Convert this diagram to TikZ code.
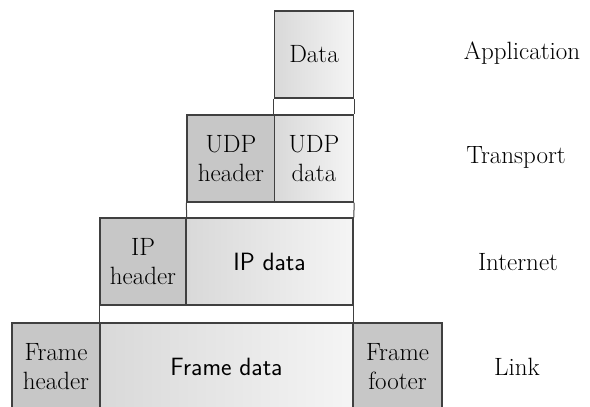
\documentclass[tikz,border=0pt]{standalone}
\usepackage{tikz}
\begin{document}
\begin{tikzpicture}[x=1pt,y=-1pt,
    box/.style={draw=black!75,line width=1.5pt,minimum height=87pt,inner sep=0pt,align=center,font=\fontsize{25}{29}\selectfont},
    hdr/.style={box,fill=black!22},
    pay/.style={box,left color=black!15,right color=black!4},
    conn/.style={draw=black!75,line width=1pt},
    lyr/.style={font=\fontsize{25}{29}\selectfont}]
    \useasboundingbox (0,0) rectangle (590,407);
        \node[pay,minimum width=79pt] (D) at (314,54.5) {Data};
        \node[hdr,minimum width=88pt] (UH) at (231,158.5) {UDP\\header};
        \node[pay,minimum width=79pt] (UD) at (314,158.5) {UDP\\data};
        \node[hdr,minimum width=86pt] (IH) at (143,261.5) {IP\\header};
        \node[pay,minimum width=167pt,font=\fontsize{25}{29}\sffamily] (ID) at (269.5,261.5) {IP data};
        \node[hdr,minimum width=88pt] (FH) at (56,366.5) {Frame\\header};
        \node[pay,minimum width=253pt,font=\fontsize{25}{29}\sffamily] (FD) at (226.5,366.5) {Frame data};
        \node[hdr,minimum width=89pt] (FF) at (397.5,366.5) {Frame\\footer};

        \node[lyr] (app) at (522,53) {Application};
        \node[lyr] (tra) at (516,157) {Transport};
        \node[lyr] (int) at (518,262) {Internet};
        \node[lyr] (lnk) at (517,367) {Link};

            \draw[conn] (D.south west) -- (UD.north west);
            \draw[conn] (D.south east) -- (UD.north east);
            \draw[conn] (UH.south west) -- (IH.north east);
            \draw[conn] (UD.south east) -- (ID.north east);
            \draw[conn] (IH.south west) -- (FD.north west);
            \draw[conn] (ID.south east) -- (FD.north east);
\end{tikzpicture}
\end{document}
